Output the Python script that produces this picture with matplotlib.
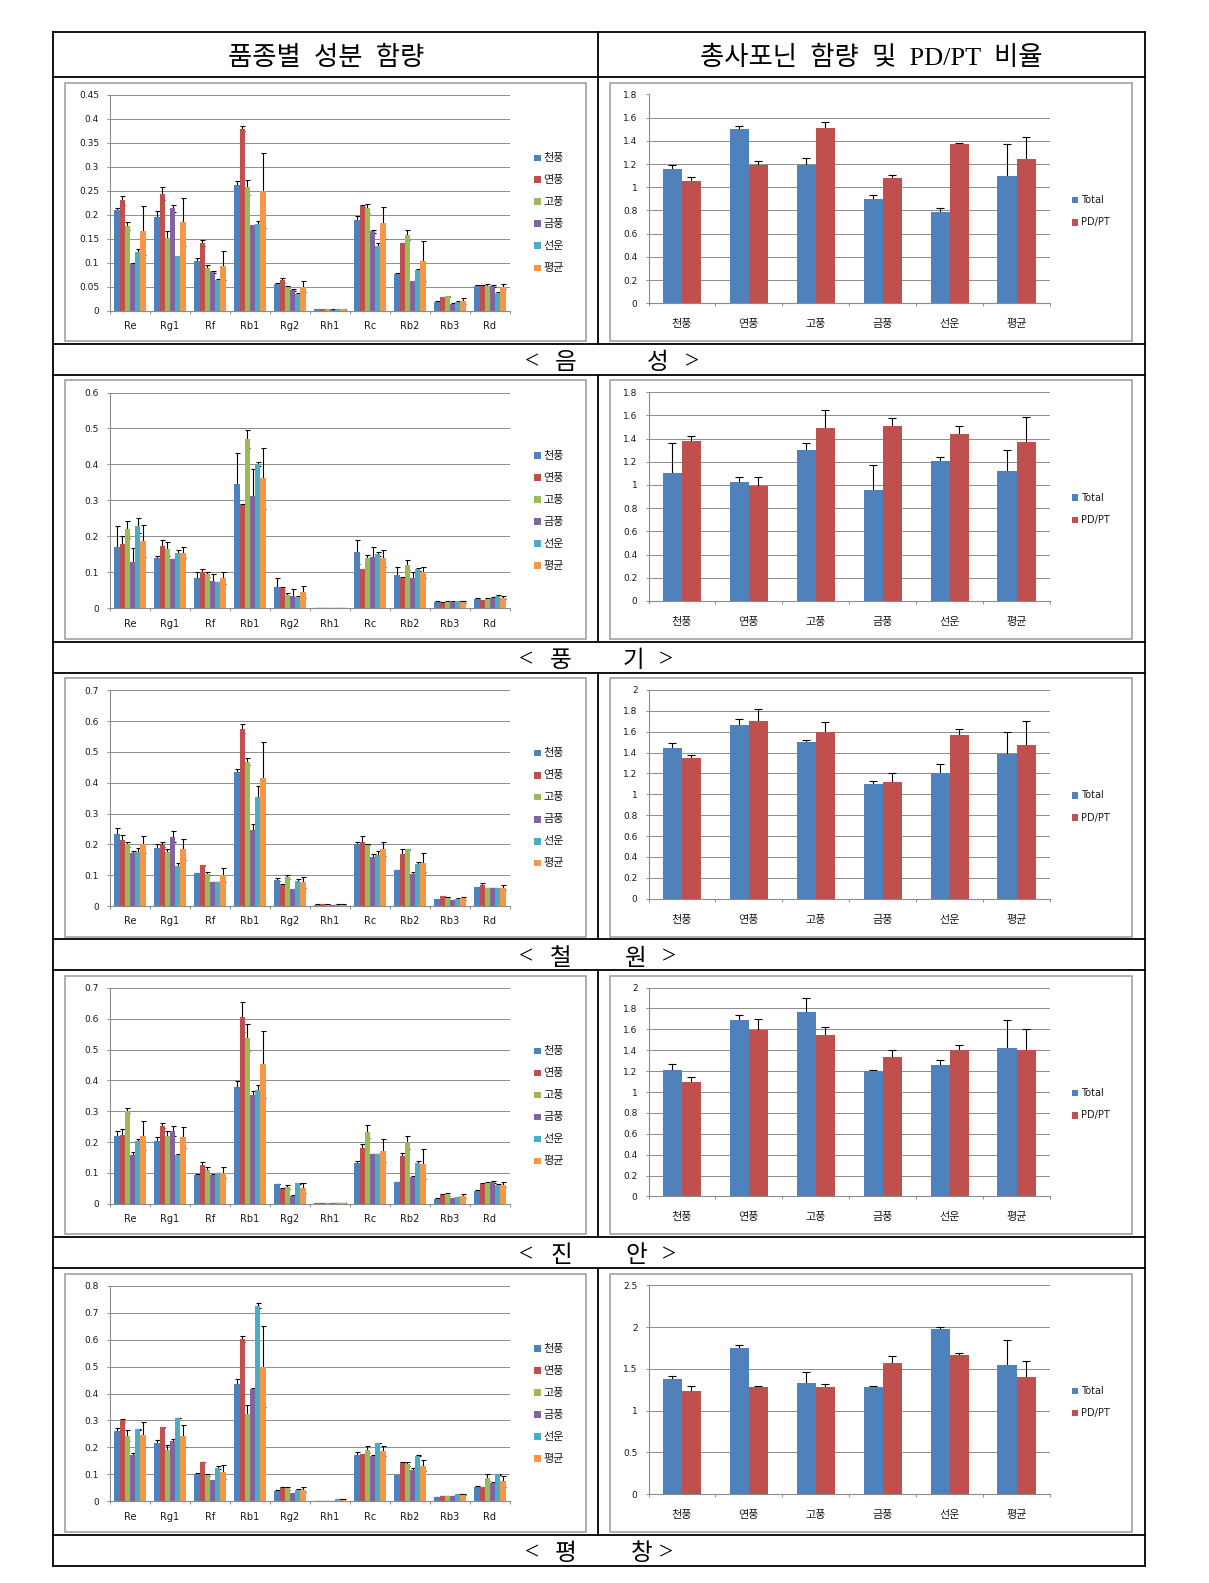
import numpy as np
import matplotlib
matplotlib.use('Agg')
import matplotlib.pyplot as plt
from matplotlib.patches import Rectangle
from matplotlib.lines import Line2D
from matplotlib.ticker import FuncFormatter

plt.rcParams['font.family'] = ['DejaVu Sans', 'Noto Sans CJK KR']

# 성분 / 품종 / 지역
ginsenosides = ['Re', 'Rg1', 'Rf', 'Rb1', 'Rg2', 'Rh1', 'Rc', 'Rb2', 'Rb3', 'Rd']
varieties = ['천풍', '연풍', '고풍', '금풍', '선운', '평균']
regions = ['음성', '풍기', '철원', '진안', '평창']
ratio_series = ['Total', 'PD/PT']
colors = ['#4F81BD', '#C0504D', '#9BBB59', '#8064A2', '#4BACC6', '#F79646']

# 음성 - 품종별 성분 함량 (행: 품종, 열: 성분) 및 표준편차
eumseong = [
    [0.209, 0.195, 0.104, 0.262, 0.055, 0.003, 0.188, 0.077, 0.018, 0.052],
    [0.230, 0.244, 0.141, 0.379, 0.063, 0.003, 0.218, 0.140, 0.028, 0.052],
    [0.177, 0.151, 0.089, 0.257, 0.050, 0.003, 0.213, 0.158, 0.030, 0.052],
    [0.097, 0.213, 0.080, 0.178, 0.043, 0.002, 0.165, 0.061, 0.014, 0.051],
    [0.122, 0.113, 0.064, 0.180, 0.035, 0.003, 0.135, 0.085, 0.018, 0.037],
    [0.167, 0.184, 0.094, 0.250, 0.050, 0.003, 0.183, 0.104, 0.020, 0.050],
]
eumseong_sd = [
    [0.005, 0.012, 0.006, 0.008, 0.003, 0.001, 0.010, 0.001, 0.001, 0.001],
    [0.009, 0.013, 0.007, 0.005, 0.006, 0.001, 0.003, 0.001, 0.001, 0.001],
    [0.008, 0.015, 0.007, 0.016, 0.002, 0.001, 0.010, 0.010, 0.001, 0.003],
    [0.002, 0.008, 0.002, 0.001, 0.002, 0.001, 0.004, 0.001, 0.001, 0.002],
    [0.006, 0.001, 0.001, 0.007, 0.001, 0.001, 0.006, 0.001, 0.001, 0.001],
    [0.051, 0.050, 0.030, 0.078, 0.011, 0.001, 0.033, 0.042, 0.007, 0.006],
]

# 풍기
punggi = [
    [0.171, 0.141, 0.083, 0.345, 0.059, 0.002, 0.156, 0.093, 0.018, 0.027],
    [0.178, 0.173, 0.102, 0.287, 0.056, 0.002, 0.108, 0.085, 0.016, 0.022],
    [0.220, 0.165, 0.094, 0.472, 0.037, 0.002, 0.141, 0.120, 0.018, 0.027],
    [0.128, 0.137, 0.076, 0.311, 0.033, 0.002, 0.144, 0.083, 0.018, 0.030],
    [0.230, 0.155, 0.073, 0.402, 0.032, 0.002, 0.151, 0.108, 0.019, 0.033],
    [0.187, 0.155, 0.085, 0.361, 0.045, 0.002, 0.139, 0.100, 0.018, 0.030],
]
punggi_sd = [
    [0.058, 0.004, 0.019, 0.088, 0.026, 0.000, 0.033, 0.021, 0.002, 0.001],
    [0.022, 0.016, 0.006, 0.003, 0.004, 0.000, 0.001, 0.001, 0.001, 0.002],
    [0.024, 0.020, 0.006, 0.025, 0.006, 0.000, 0.007, 0.013, 0.003, 0.001],
    [0.040, 0.001, 0.018, 0.076, 0.022, 0.000, 0.027, 0.019, 0.003, 0.001],
    [0.022, 0.006, 0.001, 0.006, 0.003, 0.000, 0.006, 0.003, 0.002, 0.003],
    [0.045, 0.016, 0.017, 0.084, 0.016, 0.000, 0.024, 0.015, 0.003, 0.003],
]

# 철원
cheorwon = [
    [0.234, 0.187, 0.107, 0.436, 0.085, 0.004, 0.200, 0.117, 0.022, 0.061],
    [0.214, 0.199, 0.132, 0.575, 0.069, 0.005, 0.207, 0.170, 0.031, 0.067],
    [0.200, 0.175, 0.105, 0.468, 0.094, 0.004, 0.199, 0.184, 0.027, 0.058],
    [0.173, 0.225, 0.078, 0.248, 0.054, 0.003, 0.159, 0.105, 0.019, 0.058],
    [0.176, 0.130, 0.078, 0.354, 0.080, 0.004, 0.167, 0.135, 0.023, 0.057],
    [0.200, 0.184, 0.100, 0.416, 0.077, 0.004, 0.184, 0.140, 0.025, 0.060],
]
cheorwon_sd = [
    [0.019, 0.013, 0.001, 0.007, 0.005, 0.001, 0.007, 0.001, 0.002, 0.002],
    [0.015, 0.008, 0.001, 0.014, 0.001, 0.001, 0.020, 0.016, 0.001, 0.008],
    [0.007, 0.011, 0.005, 0.012, 0.005, 0.001, 0.001, 0.001, 0.002, 0.001],
    [0.007, 0.018, 0.001, 0.017, 0.001, 0.001, 0.011, 0.005, 0.001, 0.001],
    [0.013, 0.008, 0.001, 0.035, 0.008, 0.001, 0.011, 0.009, 0.003, 0.001],
    [0.027, 0.034, 0.023, 0.116, 0.017, 0.001, 0.023, 0.031, 0.004, 0.007],
]

# 진안
jinan = [
    [0.221, 0.202, 0.094, 0.380, 0.064, 0.002, 0.132, 0.070, 0.016, 0.042],
    [0.223, 0.253, 0.124, 0.606, 0.049, 0.002, 0.182, 0.156, 0.028, 0.063],
    [0.301, 0.221, 0.110, 0.539, 0.054, 0.002, 0.234, 0.200, 0.030, 0.068],
    [0.159, 0.236, 0.094, 0.352, 0.026, 0.002, 0.161, 0.086, 0.017, 0.070],
    [0.205, 0.159, 0.099, 0.370, 0.066, 0.002, 0.161, 0.132, 0.022, 0.060],
    [0.221, 0.215, 0.101, 0.452, 0.051, 0.002, 0.172, 0.129, 0.025, 0.062],
]
jinan_sd = [
    [0.015, 0.013, 0.001, 0.018, 0.001, 0.000, 0.005, 0.001, 0.001, 0.001],
    [0.020, 0.008, 0.010, 0.049, 0.001, 0.000, 0.013, 0.010, 0.002, 0.003],
    [0.008, 0.015, 0.010, 0.044, 0.006, 0.000, 0.022, 0.021, 0.006, 0.004],
    [0.010, 0.017, 0.001, 0.012, 0.001, 0.000, 0.001, 0.005, 0.001, 0.003],
    [0.005, 0.001, 0.001, 0.015, 0.001, 0.000, 0.001, 0.008, 0.001, 0.003],
    [0.048, 0.034, 0.017, 0.109, 0.016, 0.000, 0.038, 0.048, 0.007, 0.009],
]

# 평창
pyeongchang = [
    [0.260, 0.217, 0.103, 0.435, 0.040, 0.002, 0.172, 0.097, 0.017, 0.055],
    [0.301, 0.274, 0.146, 0.603, 0.050, 0.002, 0.174, 0.143, 0.020, 0.052],
    [0.244, 0.190, 0.099, 0.324, 0.048, 0.002, 0.192, 0.139, 0.020, 0.088],
    [0.171, 0.223, 0.078, 0.418, 0.030, 0.002, 0.170, 0.118, 0.020, 0.070],
    [0.267, 0.310, 0.125, 0.726, 0.043, 0.009, 0.217, 0.170, 0.027, 0.100],
    [0.248, 0.244, 0.109, 0.500, 0.043, 0.005, 0.186, 0.133, 0.024, 0.075],
]
pyeongchang_sd = [
    [0.013, 0.010, 0.001, 0.019, 0.002, 0.000, 0.010, 0.001, 0.001, 0.001],
    [0.005, 0.001, 0.001, 0.011, 0.005, 0.000, 0.001, 0.002, 0.001, 0.001],
    [0.020, 0.020, 0.004, 0.033, 0.004, 0.000, 0.013, 0.007, 0.001, 0.012],
    [0.009, 0.009, 0.001, 0.004, 0.001, 0.000, 0.001, 0.006, 0.001, 0.001],
    [0.001, 0.001, 0.005, 0.010, 0.002, 0.001, 0.001, 0.001, 0.001, 0.002],
    [0.046, 0.041, 0.025, 0.150, 0.009, 0.003, 0.019, 0.022, 0.002, 0.020],
]

# 총사포닌 함량(Total) 및 PD/PT 비율
eumseong_total = [1.16, 1.50, 1.19, 0.90, 0.79, 1.10]
eumseong_total_sd = [0.03, 0.03, 0.06, 0.03, 0.03, 0.27]
eumseong_pdpt = [1.05, 1.19, 1.51, 1.08, 1.37, 1.24]
eumseong_pdpt_sd = [0.04, 0.04, 0.05, 0.03, 0.01, 0.19]

punggi_total = [1.10, 1.03, 1.30, 0.96, 1.21, 1.12]
punggi_total_sd = [0.26, 0.04, 0.06, 0.21, 0.03, 0.18]
punggi_pdpt = [1.38, 0.99, 1.49, 1.51, 1.44, 1.37]
punggi_pdpt_sd = [0.04, 0.08, 0.16, 0.07, 0.07, 0.22]

cheorwon_total = [1.44, 1.66, 1.50, 1.10, 1.20, 1.39]
cheorwon_total_sd = [0.05, 0.06, 0.02, 0.03, 0.09, 0.21]
cheorwon_pdpt = [1.35, 1.70, 1.60, 1.12, 1.57, 1.47]
cheorwon_pdpt_sd = [0.03, 0.12, 0.09, 0.08, 0.06, 0.23]

jinan_total = [1.21, 1.69, 1.77, 1.20, 1.26, 1.42]
jinan_total_sd = [0.06, 0.05, 0.13, 0.01, 0.05, 0.27]
jinan_pdpt = [1.10, 1.59, 1.55, 1.34, 1.40, 1.40]
jinan_pdpt_sd = [0.04, 0.11, 0.07, 0.06, 0.05, 0.20]

pyeongchang_total = [1.38, 1.75, 1.33, 1.28, 1.98, 1.55]
pyeongchang_total_sd = [0.03, 0.04, 0.13, 0.01, 0.02, 0.29]
pyeongchang_pdpt = [1.24, 1.28, 1.28, 1.57, 1.66, 1.40]
pyeongchang_pdpt_sd = [0.06, 0.01, 0.04, 0.08, 0.03, 0.19]

left_ymax = [0.45, 0.6, 0.7, 0.7, 0.8]
left_step = [0.05, 0.1, 0.1, 0.1, 0.1]
right_ymax = [1.8, 1.8, 2.0, 2.0, 2.5]
right_step = [0.2, 0.2, 0.2, 0.2, 0.5]

content_data = [(eumseong, eumseong_sd), (punggi, punggi_sd), (cheorwon, cheorwon_sd),
                (jinan, jinan_sd), (pyeongchang, pyeongchang_sd)]
ratio_data = [(eumseong_total, eumseong_total_sd, eumseong_pdpt, eumseong_pdpt_sd),
              (punggi_total, punggi_total_sd, punggi_pdpt, punggi_pdpt_sd),
              (cheorwon_total, cheorwon_total_sd, cheorwon_pdpt, cheorwon_pdpt_sd),
              (jinan_total, jinan_total_sd, jinan_pdpt, jinan_pdpt_sd),
              (pyeongchang_total, pyeongchang_total_sd, pyeongchang_pdpt, pyeongchang_pdpt_sd)]

W, H = 1209, 1583
fig = plt.figure(figsize=(W / 100, H / 100), dpi=100)


def fx(x):
    return x / W


def fy(y):
    return 1 - y / H


def add_ax(x0, y0, x1, y1):
    return fig.add_axes([fx(x0), fy(y1), (x1 - x0) / W, (y1 - y0) / H])


def line(x0, y0, x1, y1, lw=1.3, color='black'):
    fig.add_artist(Line2D([fx(x0), fx(x1)], [fy(y0), fy(y1)], lw=lw, color=color))


def box(x0, y0, x1, y1, **kw):
    fig.add_artist(Rectangle((fx(x0), fy(y1)), (x1 - x0) / W, (y1 - y0) / H, **kw))


def style_ax(ax, n, ymax, step, xpad, xsize):
    ticks = np.round(np.arange(0, ymax + step / 2, step), 3)
    ax.set_ylim(0, ymax)
    ax.set_yticks(ticks)
    ax.yaxis.set_major_formatter(FuncFormatter(lambda v, p: f'{round(v, 3):g}'))
    ax.set_xlim(-0.5, n - 0.5)
    ax.set_xticks(np.arange(n + 1) - 0.5, minor=True)
    ax.grid(axis='y', color='#8c8c8c', lw=0.7)
    ax.set_axisbelow(True)
    for s in ['top', 'right']:
        ax.spines[s].set_visible(False)
    for s in ['left', 'bottom']:
        ax.spines[s].set_color('#8c8c8c')
        ax.spines[s].set_linewidth(0.8)
    ax.tick_params(axis='y', length=2.4, width=0.7, color='#8c8c8c', pad=5.5,
                   labelsize=6.5, labelcolor='#1a1a1a')
    ax.tick_params(axis='x', which='major', length=0, pad=xpad, labelsize=xsize,
                   labelcolor='#1a1a1a')
    ax.tick_params(axis='x', which='minor', length=2.4, width=0.7, color='#8c8c8c')
    ax.patch.set_alpha(0)


# 표 테두리
tab_l, tab_r, tab_m = 53.3, 1144.5, 598.3
tab_top, head_bot = 32.3, 77.3
row_h, cap_h = 266.5, 31.2
row_tops = [head_bot + i * (row_h + cap_h) for i in range(5)]
tab_bot = row_tops[-1] + row_h + cap_h

line(tab_l, tab_top, tab_r, tab_top)
line(tab_l, head_bot, tab_r, head_bot)
line(tab_l, tab_top, tab_l, tab_bot)
line(tab_r, tab_top, tab_r, tab_bot)
line(tab_m, tab_top, tab_m, head_bot)
for top in row_tops:
    line(tab_l, top + row_h, tab_r, top + row_h)
    line(tab_l, top + row_h + cap_h, tab_r, top + row_h + cap_h)
    line(tab_m, top, tab_m, top + row_h)

head_font = ['Liberation Serif', 'Noto Sans CJK KR']
fig.text(fx(325.8), fy(57.5), '품종별  성분  함량', fontsize=19, ha='center', va='center',
         family=head_font)
fig.text(fx(870.8), fy(57.5), '총사포닌  함량  및  PD/PT  비율', fontsize=19, ha='center',
         va='center', family=head_font)

# 캡션 글자 위치 (< 지 역 >)
cap_x = [(532, 566, 658, 692), (526, 561, 633, 666), (526, 561, 636, 669),
         (526, 561, 636, 669), (532, 566, 642, 666)]

x10 = np.arange(len(ginsenosides))
x6 = np.arange(len(varieties))
bw_l = 0.13
bw_r = 0.285
# 오차막대는 막대 뒤에 그려서 위쪽 절반만 보이게 함
err_l = dict(ecolor='black', elinewidth=0.8, capsize=1.8, capthick=0.8, zorder=2.5)
err_r = dict(ecolor='black', elinewidth=0.8, capsize=2.6, capthick=0.8, zorder=2.5)

for r, top in enumerate(row_tops):
    # 엑셀 차트 테두리
    box(65, top + 5.4, 586, top + 264, fill=False, edgecolor='#9a9a9a', lw=1.1)
    box(610, top + 5.4, 1132.3, top + 264, fill=False, edgecolor='#9a9a9a', lw=1.1)

    # 품종별 성분 함량
    vals, sds = content_data[r]
    ax = add_ax(110, top + 17.5, 510, top + 233.3)
    for i in range(len(varieties)):
        ax.bar(x10 + (i - 2.5) * bw_l, vals[i], bw_l, color=colors[i], zorder=3,
               yerr=sds[i], error_kw=err_l)
    ax.set_xticks(x10)
    ax.set_xticklabels(ginsenosides)
    style_ax(ax, len(ginsenosides), left_ymax[r], left_step[r], 7.5, 7)

    for i, name in enumerate(varieties):
        yc = top + 80.5 + i * 22
        box(534, yc - 3.3, 540.6, yc + 3.3, facecolor=colors[i], lw=0)
        fig.text(fx(543.5), fy(yc), name, fontsize=8, ha='left', va='center', color='#1a1a1a')

    # 총사포닌 함량 및 PD/PT 비율
    tot, tot_sd, pdpt, pdpt_sd = ratio_data[r]
    ax2 = add_ax(648.5, top + 17.2, 1050, top + 226)
    ax2.bar(x6 - bw_r / 2, tot, bw_r, color=colors[0], zorder=3, yerr=tot_sd, error_kw=err_r)
    ax2.bar(x6 + bw_r / 2, pdpt, bw_r, color=colors[1], zorder=3, yerr=pdpt_sd, error_kw=err_r)
    ax2.set_xticks(x6)
    ax2.set_xticklabels(varieties)
    style_ax(ax2, len(varieties), right_ymax[r], right_step[r], 11.5, 8)

    for i, name in enumerate(ratio_series):
        yc = top + 122.7 + i * 22.3
        box(1071.7, yc - 3.3, 1078.3, yc + 3.3, facecolor=colors[i], lw=0)
        fig.text(fx(1081.5), fy(yc), name, fontsize=7, ha='left', va='center', color='#1a1a1a')

    # 지역명 캡션
    cy = top + row_h + cap_h / 2 + 3
    xs = cap_x[r]
    fig.text(fx(xs[0]), fy(cy), '<', fontsize=18, ha='center', va='center', family=head_font)
    fig.text(fx(xs[1]), fy(cy), regions[r][0], fontsize=17, ha='center', va='center')
    fig.text(fx(xs[2]), fy(cy), regions[r][1], fontsize=17, ha='center', va='center')
    fig.text(fx(xs[3]), fy(cy), '>', fontsize=18, ha='center', va='center', family=head_font)

fig.savefig('out.png', dpi=100)
